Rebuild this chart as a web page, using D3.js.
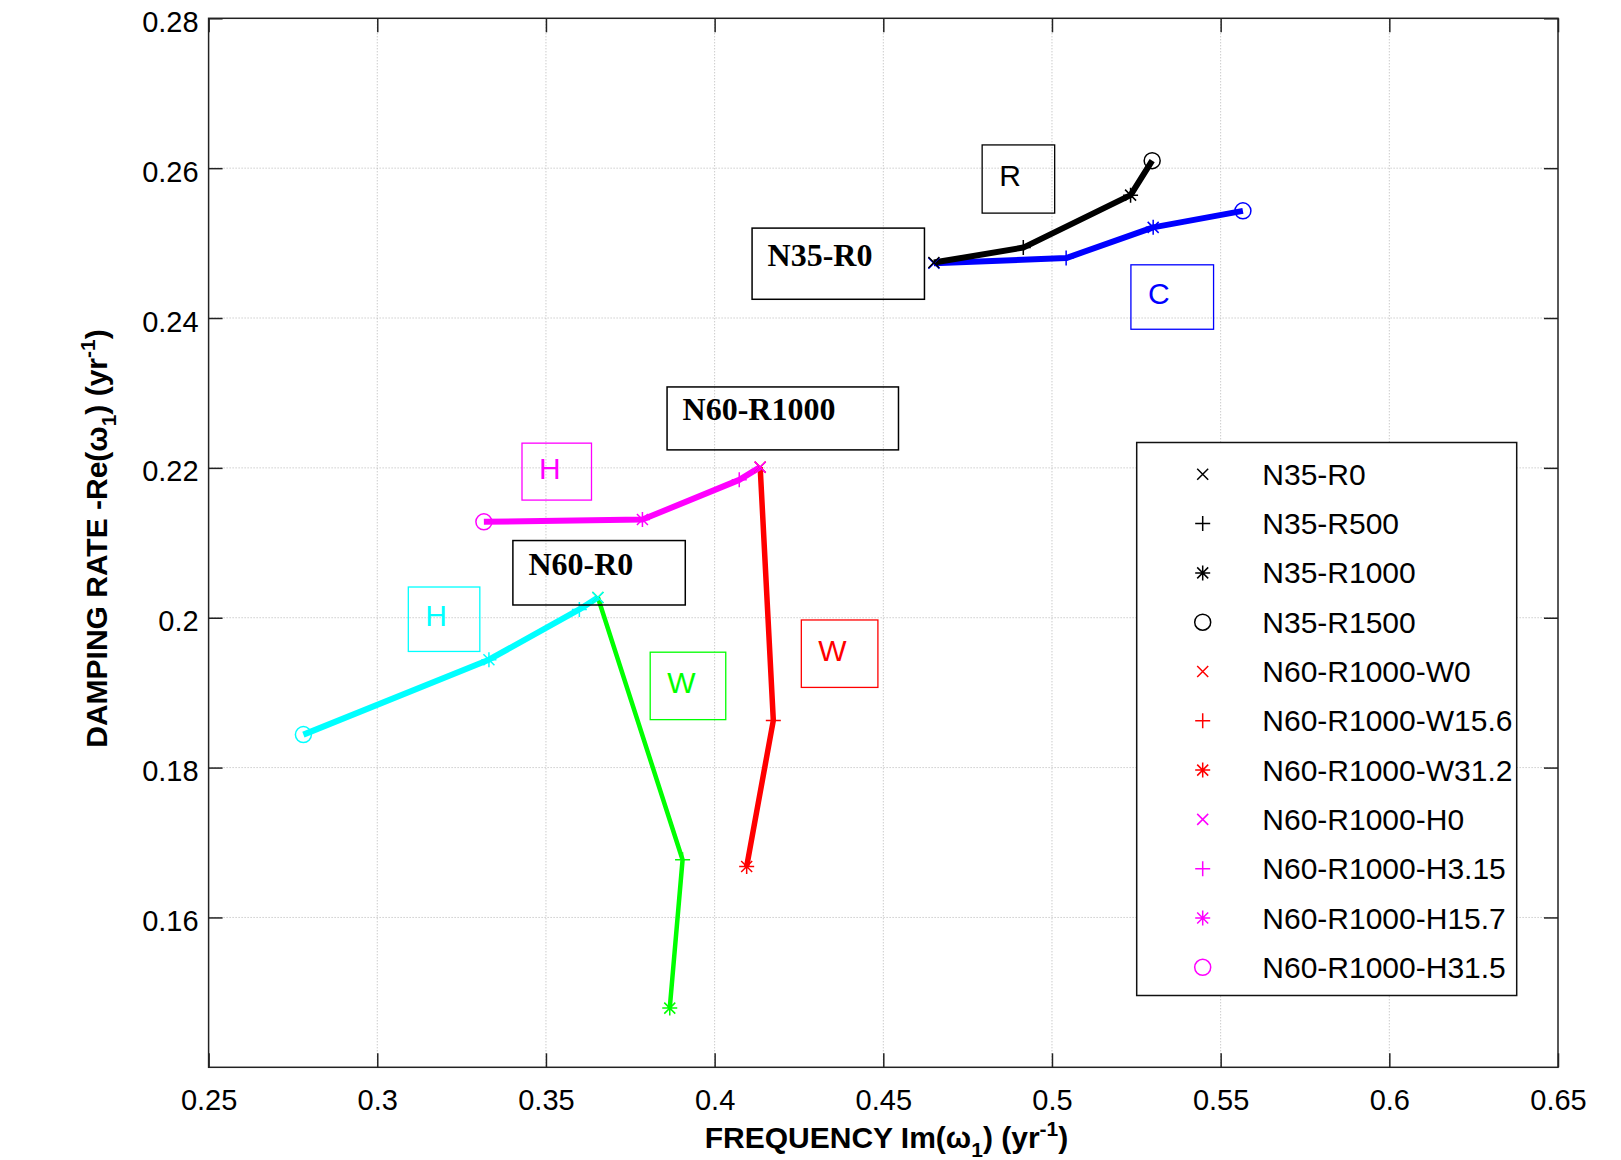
<!DOCTYPE html>
<html>
<head>
<meta charset="utf-8">
<script src="https://cdn.jsdelivr.net/npm/d3@7/dist/d3.min.js"></script>
<style>
  html, body { margin: 0; padding: 0; background: #fff; }
  svg { display: block; }
</style>
</head>
<body>
<div id="chart"></div>
<script>
// Ejes
const X_TICKS = [0.25, 0.3, 0.35, 0.4, 0.45, 0.5, 0.55, 0.6, 0.65];
const X_TICK_LABELS = ["0.25", "0.3", "0.35", "0.4", "0.45", "0.5", "0.55", "0.6", "0.65"];
const Y_TICKS = [0.16, 0.18, 0.2, 0.22, 0.24, 0.26, 0.28];
const Y_TICK_LABELS = ["0.16", "0.18", "0.2", "0.22", "0.24", "0.26", "0.28"];

// Series (frecuencia, amortiguamiento), orden de marcadores: x, +, *, o
const N35_R_X = [0.4650, 0.4915, 0.5233, 0.5297];
const N35_R_Y = [0.2474, 0.2494, 0.2564, 0.2610];
const N35_C_X = [0.4650, 0.5042, 0.5300, 0.5566];
const N35_C_Y = [0.2473, 0.2480, 0.2521, 0.2543];
const N60_R1000_W_X = [0.4135, 0.4174, 0.4095];
const N60_R1000_W_Y = [0.2201, 0.1863, 0.1668];
const N60_R1000_H_X = [0.4135, 0.4073, 0.3786, 0.3316];
const N60_R1000_H_Y = [0.2201, 0.2184, 0.2131, 0.2128];
const N60_R0_H_X = [0.3654, 0.3599, 0.3331, 0.2781];
const N60_R0_H_Y = [0.2027, 0.2011, 0.1944, 0.1844];
const N60_R0_W_X = [0.3654, 0.3905, 0.3867];
const N60_R0_W_Y = [0.2027, 0.1677, 0.1479];

const MARKERS = ["x", "+", "*", "o"];

// Leyenda
const LEGEND_LABELS = ["N35-R0", "N35-R500", "N35-R1000", "N35-R1500",
  "N60-R1000-W0", "N60-R1000-W15.6", "N60-R1000-W31.2",
  "N60-R1000-H0", "N60-R1000-H3.15", "N60-R1000-H15.7", "N60-R1000-H31.5"];
const LEGEND_MARKERS = ["x", "+", "*", "o", "x", "+", "*", "x", "+", "*", "o"];
const LEGEND_COLORS = ["#000000", "#000000", "#000000", "#000000",
  "#ff0000", "#ff0000", "#ff0000", "#ff00ff", "#ff00ff", "#ff00ff", "#ff00ff"];

// Anotaciones (caja en unidades de datos)
const NOTE_TEXT = ["R", "N35-R0", "C", "N60-R1000", "H", "N60-R0", "H", "W", "W"];
const NOTE_X0 = [0.4793, 0.4111, 0.5234, 0.3859, 0.3429, 0.3402, 0.3092, 0.3809, 0.4257];
const NOTE_X1 = [0.5008, 0.4622, 0.5479, 0.4545, 0.3635, 0.3913, 0.3304, 0.4033, 0.4484];
const NOTE_Y0 = [0.2631, 0.2520, 0.2471, 0.2308, 0.2233, 0.2103, 0.2041, 0.1954, 0.1997];
const NOTE_Y1 = [0.2540, 0.2425, 0.2385, 0.2224, 0.2157, 0.2017, 0.1955, 0.1864, 0.1907];
const NOTE_COLORS = ["#000000", "#000000", "#0000ff", "#000000", "#ff00ff", "#000000", "#00ffff", "#00ff00", "#ff0000"];

const WIDTH = 1621;
const HEIGHT = 1160;
const MARGIN = { left: 208.6, right: 1558, top: 18.3, bottom: 1067.3 };

const svg = d3.select("#chart").append("svg")
  .attr("width", WIDTH).attr("height", HEIGHT);

const x = d3.scaleLinear().domain([0.25, 0.65]).range([MARGIN.left, MARGIN.right]);
const y = d3.scaleLinear().domain([0.14, 0.28]).range([MARGIN.bottom, MARGIN.top]);

// Rejilla punteada
const grid = svg.append("g");
grid.selectAll("line.gx")
  .data(X_TICKS.slice(1, -1))
  .enter().append("line")
  .attr("x1", d => x(d)).attr("x2", d => x(d))
  .attr("y1", MARGIN.top).attr("y2", MARGIN.bottom)
  .attr("stroke", "#b4b4b4").attr("stroke-width", 1).attr("stroke-dasharray", "1,2");
grid.selectAll("line.gy")
  .data(Y_TICKS.slice(0, -1))
  .enter().append("line")
  .attr("x1", MARGIN.left).attr("x2", MARGIN.right)
  .attr("y1", d => y(d)).attr("y2", d => y(d))
  .attr("stroke", "#b4b4b4").attr("stroke-width", 1).attr("stroke-dasharray", "1,2");

// Ejes con ticks hacia adentro en los cuatro lados
const TICK = 14;
const fmtX = d => X_TICK_LABELS[X_TICKS.indexOf(d)];
const fmtY = d => Y_TICK_LABELS[Y_TICKS.indexOf(d)];
function styleAxis(g) {
  g.select(".domain").remove();
  g.selectAll(".tick line").attr("stroke", "#222").attr("stroke-width", 1.5);
  g.selectAll("text").attr("font-family", "'Liberation Sans', Arial, sans-serif")
    .attr("font-size", 29).attr("fill", "#000");
}
svg.append("g").attr("transform", `translate(0,${MARGIN.bottom})`)
  .call(d3.axisBottom(x).tickValues(X_TICKS).tickFormat(fmtX).tickSizeInner(-TICK).tickPadding(22))
  .call(styleAxis);
svg.append("g").attr("transform", `translate(0,${MARGIN.top})`)
  .call(d3.axisTop(x).tickValues(X_TICKS).tickFormat("").tickSizeInner(-TICK))
  .call(styleAxis);
svg.append("g").attr("transform", `translate(${MARGIN.left},0)`)
  .call(d3.axisLeft(y).tickValues(Y_TICKS).tickFormat(fmtY).tickSizeInner(-TICK).tickPadding(10))
  .call(styleAxis)
  .selectAll("text").attr("dy", "0.45em");
svg.append("g").attr("transform", `translate(${MARGIN.right},0)`)
  .call(d3.axisRight(y).tickValues(Y_TICKS).tickFormat("").tickSizeInner(-TICK))
  .call(styleAxis);

// Caja del gráfico
svg.append("rect")
  .attr("x", MARGIN.left).attr("y", MARGIN.top)
  .attr("width", MARGIN.right - MARGIN.left).attr("height", MARGIN.bottom - MARGIN.top)
  .attr("fill", "none").attr("stroke", "#222").attr("stroke-width", 1.5);

// Marcadores tipo MATLAB
function markerPath(type) {
  const h = 7.5, d = 5.5;
  if (type === "x") return `M${-d},${-d}L${d},${d}M${-d},${d}L${d},${-d}`;
  if (type === "+") return `M${-h},0L${h},0M0,${-h}L0,${h}`;
  if (type === "*") return `M${-h},0L${h},0M0,${-h}L0,${h}M${-d},${-d}L${d},${d}M${-d},${d}L${d},${-d}`;
  return "";
}
function drawMarker(g, type, cx, cy, color) {
  if (type === "o") {
    g.append("circle").attr("cx", cx).attr("cy", cy).attr("r", 8)
      .attr("fill", "none").attr("stroke", color).attr("stroke-width", 1.5);
  } else {
    g.append("path").attr("d", markerPath(type))
      .attr("transform", `translate(${cx},${cy})`)
      .attr("fill", "none").attr("stroke", color).attr("stroke-width", 1.5);
  }
}

// Series
const series = [
  { xs: N60_R0_W_X, ys: N60_R0_W_Y, color: "#00ff00", w: 4.5 },
  { xs: N60_R0_H_X, ys: N60_R0_H_Y, color: "#00ffff", w: 6 },
  { xs: N60_R1000_W_X, ys: N60_R1000_W_Y, color: "#ff0000", w: 5.5 },
  { xs: N60_R1000_H_X, ys: N60_R1000_H_Y, color: "#ff00ff", w: 6 },
  { xs: N35_C_X, ys: N35_C_Y, color: "#0000ff", w: 6 },
  { xs: N35_R_X, ys: N35_R_Y, color: "#000000", w: 6 }
];

const line = d3.line().x(d => x(d[0])).y(d => y(d[1]));
const plot = svg.append("g");
series.forEach(s => {
  const pts = s.xs.map((v, i) => [v, s.ys[i]]);
  plot.append("path").datum(pts).attr("d", line)
    .attr("fill", "none").attr("stroke", s.color)
    .attr("stroke-width", s.w).attr("stroke-linejoin", "round");
});
series.forEach(s => {
  s.xs.forEach((v, i) => drawMarker(plot, MARKERS[i], x(v), y(s.ys[i]), s.color));
});

// Anotaciones con caja
const notes = svg.append("g");
NOTE_TEXT.forEach((t, i) => {
  const bx = x(NOTE_X0[i]), by = y(NOTE_Y0[i]);
  const bw = x(NOTE_X1[i]) - bx, bh = y(NOTE_Y1[i]) - by;
  const isName = t.length > 1;
  notes.append("rect")
    .attr("x", bx).attr("y", by).attr("width", bw).attr("height", bh)
    .attr("fill", "none").attr("stroke", NOTE_COLORS[i])
    .attr("stroke-width", isName ? 1.5 : 1.3);
  notes.append("text")
    .attr("x", bx + (isName ? 15.5 : 17))
    .attr("y", by + bh / 2 + (isName ? 2 : 7))
    .attr("font-family", isName ? "'Liberation Serif', 'Times New Roman', serif" : "'Liberation Sans', Arial, sans-serif")
    .attr("font-weight", isName ? "bold" : "normal")
    .attr("font-size", isName ? 32 : 30)
    .attr("fill", NOTE_COLORS[i])
    .text(t);
});

// Leyenda
const LEG = { x: 1136.7, y: 442.5, w: 380, h: 553, row0: 474.3, step: 49.3, mx: 1202.7, tx: 1262.3 };
const legend = svg.append("g");
legend.append("rect")
  .attr("x", LEG.x).attr("y", LEG.y).attr("width", LEG.w).attr("height", LEG.h)
  .attr("fill", "#fff").attr("stroke", "#111").attr("stroke-width", 1.5);
LEGEND_LABELS.forEach((lab, i) => {
  const ry = LEG.row0 + i * LEG.step;
  drawMarker(legend, LEGEND_MARKERS[i], LEG.mx, ry, LEGEND_COLORS[i]);
  legend.append("text")
    .attr("x", LEG.tx).attr("y", ry + 10.5)
    .attr("font-family", "'Liberation Sans', Arial, sans-serif")
    .attr("font-size", 30).attr("fill", "#000")
    .text(lab);
});

// Títulos de ejes
const xl = svg.append("text")
  .attr("x", 886.5).attr("y", 1148)
  .attr("text-anchor", "middle")
  .attr("font-family", "'Liberation Sans', Arial, sans-serif")
  .attr("font-weight", "bold").attr("font-size", 30).attr("fill", "#000");
xl.append("tspan").text("FREQUENCY Im(ω");
xl.append("tspan").attr("font-size", 21).attr("dy", 9).text("1");
xl.append("tspan").attr("dy", -9).text(") (yr");
xl.append("tspan").attr("font-size", 21).attr("dy", -12).text("-1");
xl.append("tspan").attr("dy", 12).text(")");

const yl = svg.append("text")
  .attr("transform", "translate(107,538.5) rotate(-90)")
  .attr("text-anchor", "middle")
  .attr("font-family", "'Liberation Sans', Arial, sans-serif")
  .attr("font-weight", "bold").attr("font-size", 30).attr("fill", "#000");
yl.append("tspan").text("DAMPING RATE -Re(ω");
yl.append("tspan").attr("font-size", 21).attr("dy", 9).text("1");
yl.append("tspan").attr("dy", -9).text(") (yr");
yl.append("tspan").attr("font-size", 21).attr("dy", -12).text("-1");
yl.append("tspan").attr("dy", 12).text(")");
</script>
</body>
</html>
